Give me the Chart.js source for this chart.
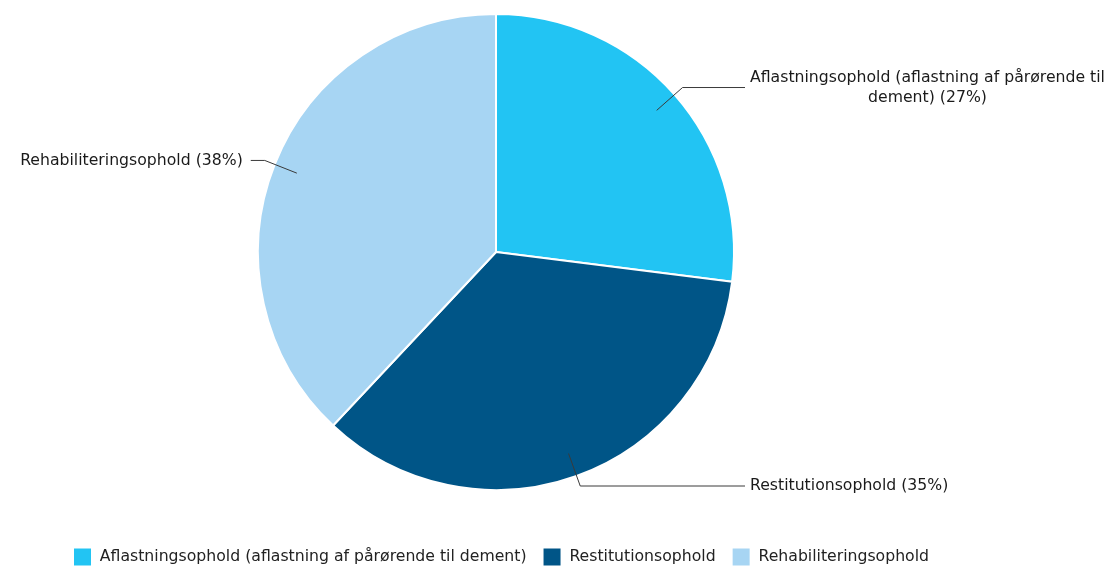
<!DOCTYPE html>
<html><head><meta charset="utf-8">
<script src="https://cdn.jsdelivr.net/npm/chart.js@4"></script>
<style>html,body{margin:0;padding:0;background:#fff}#wrap{width:1117px;height:570px}</style>
</head><body><div id="wrap"><canvas id="c" width="1117" height="570"></canvas></div>
<script>
const categories = ['Aflastningsophold (aflastning af pårørende til dement)', 'Restitutionsophold', 'Rehabiliteringsophold'];
const values = [27, 35, 38];
const colors = ['#22c4f3', '#005587', '#a7d5f3'];

const FONT = '"DejaVu Sans", Verdana, sans-serif';

function wrapText(ctx, text, maxW) {
  const words = text.split(' ');
  const lines = [];
  let cur = '';
  words.forEach(w => {
    const t = cur ? cur + ' ' + w : w;
    if (ctx.measureText(t).width > maxW && cur) { lines.push(cur); cur = w; } else cur = t;
  });
  if (cur) lines.push(cur);
  return lines;
}

const leaderLabels = {
  id: 'leaderLabels',
  afterDatasetsDraw(chart) {
    const ctx = chart.ctx;
    const meta = chart.getDatasetMeta(0);
    ctx.save();
    ctx.font = '15.7px ' + FONT;
    meta.data.forEach((arc, i) => {
      const p = arc.getProps(['x', 'y', 'startAngle', 'endAngle', 'outerRadius'], true);
      const mid = (p.startAngle + p.endAngle) / 2;
      const c = Math.cos(mid), s = Math.sin(mid);
      const r = p.outerRadius;
      const a = {x: p.x + c * r * 0.9, y: p.y + s * r * 0.9};
      const b = {x: p.x + c * r * 1.045, y: p.y + s * r * 1.045};
      const right = c >= 0;
      const endX = right ? 745 : b.x - 14;
      ctx.strokeStyle = '#3a3a3a';
      ctx.lineWidth = 1;
      ctx.beginPath();
      ctx.moveTo(a.x, a.y); ctx.lineTo(b.x, b.y); ctx.lineTo(endX, b.y);
      ctx.stroke();
      const text = categories[i] + ' (' + values[i] + '%)';
      const lines = wrapText(ctx, text, 366);
      const lh = 20;
      const widths = lines.map(l => ctx.measureText(l).width);
      const blockW = Math.max(...widths);
      ctx.fillStyle = '#1a1a1a';
      ctx.textBaseline = 'middle';
      ctx.textAlign = 'left';
      const y0 = b.y - (lines.length - 1) * lh / 2;
      lines.forEach((l, k) => {
        let x;
        if (right) x = endX + 5 + (blockW - widths[k]) / 2;
        else x = endX - 8 - blockW + (blockW - widths[k]) / 2;
        ctx.fillText(l, x, y0 + k * lh);
      });
    });
    ctx.restore();
  }
};

const legendShift = {
  id: 'legendShift',
  afterLayout(chart) {
    if (chart.legend) { chart.legend.left += 5; chart.legend.right += 5; }
  }
};

new Chart(document.getElementById('c'), {
  type: 'pie',
  data: {
    labels: categories,
    datasets: [{
      data: values,
      backgroundColor: colors,
      borderColor: '#ffffff',
      borderWidth: 2,
      hoverOffset: 0
    }]
  },
  options: {
    responsive: false,
    animation: false,
    layout: {padding: {top: 13, left: 0, right: 125, bottom: -6.5}},
    plugins: {
      tooltip: {enabled: false},
      legend: {
        display: true,
        position: 'bottom',
        title: {display: true, text: ' ', font: {size: 10}, padding: {top: 28.5, bottom: 0}},
        labels: {
          boxWidth: 19,
          boxHeight: 19,
          padding: 16,
          color: '#222',
          font: {family: FONT, size: 15.7}
        }
      }
    }
  },
  plugins: [leaderLabels, legendShift]
});
</script>
</body></html>
